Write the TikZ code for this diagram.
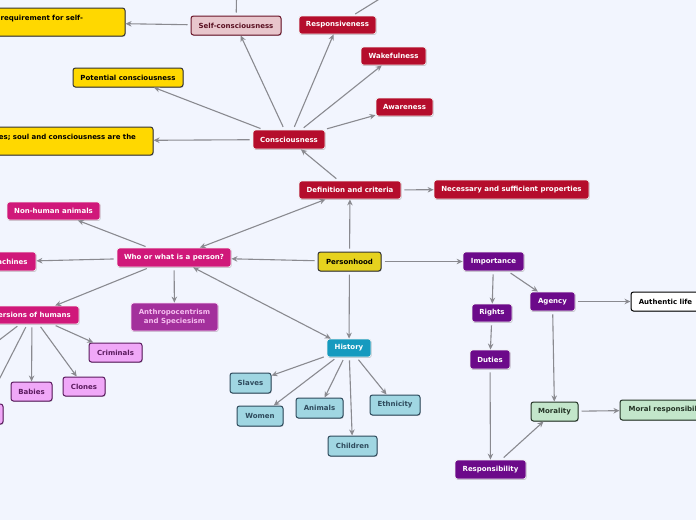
\documentclass[tikz,border=0pt]{standalone}
\usepackage{fontspec}
\setmainfont{DejaVu Sans}
\usetikzlibrary{arrows.meta,shadows}
\definecolor{bg}{RGB}{242,245,254}
\definecolor{cgray}{RGB}{138,138,144}
\definecolor{crim}{RGB}{181,13,44}
\definecolor{mag}{RGB}{208,24,122}
\definecolor{anth}{RGB}{163,48,156}
\definecolor{anthtxt}{RGB}{246,190,240}
\definecolor{vio}{RGB}{240,168,248}
\definecolor{viob}{RGB}{90,26,94}
\definecolor{teal}{RGB}{21,154,191}
\definecolor{lblue}{RGB}{160,214,226}
\definecolor{lblueb}{RGB}{46,74,92}
\definecolor{purp}{RGB}{108,10,138}
\definecolor{lgreen}{RGB}{195,230,203}
\definecolor{lgreenb}{RGB}{36,52,38}
\definecolor{yel}{RGB}{255,216,0}
\definecolor{phood}{RGB}{230,210,30}
\definecolor{scfill}{RGB}{232,198,204}
\definecolor{scb}{RGB}{106,20,40}
\begin{document}
\begin{tikzpicture}[x=1pt,y=-1pt,
  every node/.style={font=\fontsize{7}{9}\selectfont\bfseries},
  nb/.style={rectangle, rounded corners=2.5pt, inner sep=0pt, align=center},
  sz/.style 2 args={minimum width=#1pt, minimum height=#2pt},
  shad/.style={drop shadow={shadow xshift=0.6pt, shadow yshift=-0.9pt, fill=black, opacity=0.22}},
  darkbox/.style={nb, draw=white!88!gray, line width=0.8pt, text=white, fill=#1, shad},
  lightbox/.style={nb, line width=1pt, fill=#1, shad},
  crimbox/.style={darkbox=crim},
  magbox/.style={darkbox=mag},
  anthbox/.style={darkbox=anth, text=anthtxt, draw=anthtxt!60!white},
  viobox/.style={lightbox=vio, draw=viob, text=viob},
  tealbox/.style={darkbox=teal},
  bluebox/.style={lightbox=lblue, draw=lblueb, text=lblueb},
  purpbox/.style={darkbox=purp},
  greenbox/.style={lightbox=lgreen, draw=lgreenb, text=lgreenb},
  yelbox/.style={lightbox=yel, draw=black!80, text=black},
  rootbox/.style={lightbox=phood, draw=black!80, text=black},
  scbox/.style={lightbox=scfill, draw=scb, text=scb!85!black},
  whitebox/.style={lightbox=white, draw=black, text=black},
  conn/.style={draw=cgray, line width=1.1pt, -{Stealth[length=6pt,width=5.5pt]}, shorten <=3pt},
  biconn/.style={draw=cgray, line width=1.1pt, {Stealth[length=6pt,width=5.5pt]}-{Stealth[length=6pt,width=5.5pt]}}
]
\useasboundingbox (0,0) rectangle (696,520);
\clip (0,0) rectangle (696,520);
\fill[bg] (0,0) rectangle (696,520);

% root
\node[rootbox, sz={63}{19}] (root) at (349.5,261.5) {Personhood};

% definition branch
\node[crimbox, sz={102}{18}] (defc) at (350,190) {Definition and criteria};
\node[crimbox, sz={155}{19}] (nec) at (511.5,189.5) {Necessary and sufficient properties};
\node[crimbox, sz={72}{19}] (cons) at (289,139.5) {Consciousness};
\node[crimbox, sz={77}{18}] (resp) at (337.5,25) {Responsiveness};
\node[crimbox, sz={65}{18}] (wake) at (393.5,56) {Wakefulness};
\node[crimbox, sz={57}{18}] (aware) at (404.5,107) {Awareness};
\node[scbox, sz={90}{19}] (selfc) at (236,25.5) {Self-consciousness};
\node[yelbox, sz={110}{19}] (pot) at (128,77.5) {Potential consciousness};
\node[yelbox, sz={210}{28}, text width=126pt, align=right] (req) at (20,22) {requirement for self-\\\mbox{}};
\node[yelbox, sz={253}{28}, text width=219pt, align=right] (soul) at (26.5,141) {es; soul and consciousness are the\\\mbox{}};
\coordinate (scup) at (237,-30);
\coordinate (respup) at (402,-15);

% who branch
\node[magbox, sz={114}{19}] (who) at (174,257.5) {Who or what is a person?};
\node[magbox, sz={93}{18}] (nonh) at (53.5,211) {Non-human animals};
\node[magbox, sz={54}{19}] (mach) at (9,261.5) {Machines};
\node[magbox, sz={94}{18}] (vers) at (32,315) {Versions of humans};
\node[anthbox, sz={87}{28}] (anthro) at (174.5,317) {Anthropocentrism\\and Speciesism};
\node[viobox, sz={53}{19}] (crim) at (115.5,352.5) {Criminals};
\node[viobox, sz={41}{19}] (babies) at (31.5,391.5) {Babies};
\node[viobox, sz={42}{19}] (clones) at (84,386.5) {Clones};
\node[viobox, sz={43}{20}] (offA) at (-18.5,414) {};
\coordinate (offB) at (-40,370);

% history branch
\node[tealbox, sz={44}{18}] (hist) at (349,348) {History};
\node[bluebox, sz={41}{20}] (slaves) at (250.5,383) {Slaves};
\node[bluebox, sz={46}{20}] (women) at (260,416) {Women};
\node[bluebox, sz={47}{20}] (animals) at (319.5,408) {Animals};
\node[bluebox, sz={50}{20}] (ethn) at (395,405) {Ethnicity};
\node[bluebox, sz={49}{20}] (child) at (352.5,446) {Children};

% importance branch
\node[purpbox, sz={61}{19}] (imp) at (493.5,261.5) {Importance};
\node[purpbox, sz={45}{19}] (agency) at (552.5,301.5) {Agency};
\node[purpbox, sz={40}{18}] (rights) at (492,313) {Rights};
\node[purpbox, sz={40}{19}] (duties) at (490,359.5) {Duties};
\node[purpbox, sz={71}{19}] (respons) at (490.5,469.5) {Responsibility};
\node[whitebox, sz={69}{19}] (auth) at (665.5,301.5) {Authentic life};
\node[greenbox, sz={47}{19}] (moral) at (554.5,411.5) {Morality};
\node[greenbox, sz={96}{20}] (moralr) at (668,410) {Moral responsibility};

% connectors
\draw[conn] (root) -- (defc);
\draw[conn] (root) -- (who);
\draw[conn] (root) -- (hist);
\draw[conn] (root) -- (imp);

\draw[conn] (defc) -- (cons);
\draw[conn] (defc) -- (nec);
\draw[biconn] (defc) -- (who);
\draw[biconn] (who) -- (hist);

\draw[conn] (cons) -- (selfc);
\draw[conn] (cons) -- (resp);
\draw[conn] (cons) -- (wake);
\draw[conn] (cons) -- (aware);
\draw[conn] (cons) -- (pot);
\draw[conn] (cons) -- (soul);
\draw[conn] (selfc) -- (req);
\draw[conn] (selfc) -- (scup);
\draw[conn] (resp) -- (respup);

\draw[conn] (who) -- (nonh);
\draw[conn] (who) -- (mach);
\draw[conn] (who) -- (vers);
\draw[conn] (who) -- (anthro);
\draw[conn] (vers) -- (crim);
\draw[conn] (vers) -- (babies);
\draw[conn] (vers) -- (clones);
\draw[conn] (vers) -- (offA);
\draw[conn] (vers) -- (offB);

\draw[conn] (hist) -- (slaves);
\draw[conn] (hist) -- (women);
\draw[conn] (hist) -- (animals);
\draw[conn] (hist) -- (child);
\draw[conn] (hist) -- (ethn);

\draw[conn] (imp) -- (rights);
\draw[conn] (imp) -- (agency);
\draw[conn] (rights) -- (duties);
\draw[conn] (duties) -- (respons);
\draw[conn] (agency) -- (moral);
\draw[conn] (agency) -- (auth);
\draw[conn] (respons) -- (moral);
\draw[conn] (moral) -- (moralr);
\end{tikzpicture}
\end{document}
